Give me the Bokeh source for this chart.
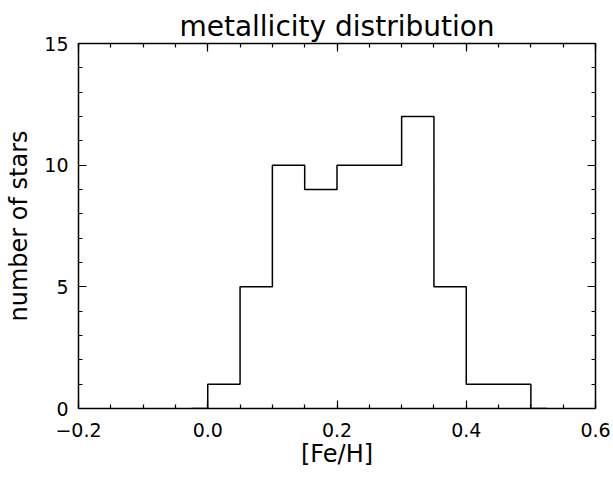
import numpy as np
from bokeh.plotting import figure
from bokeh.models import (LinearAxis, FixedTicker, Range1d, CustomJSTickFormatter)
from bokeh.embed import file_html
from bokeh.resources import INLINE

# Data: histogram bin centers (IDL psym=10 style) and counts
bin_centers = [-0.025, 0.025, 0.075, 0.125, 0.175, 0.225, 0.275, 0.325, 0.375, 0.425, 0.475, 0.525]
counts = [0, 1, 5, 10, 9, 10, 10, 12, 5, 1, 1, 0]

x_major = [-0.2, 0.0, 0.2, 0.4, 0.6]
y_major = [0, 5, 10, 15]

title_text = "metallicity distribution"
x_label = "[Fe/H]"
y_label = "number of stars"

FONT = "DejaVu Sans"

x_minor = [round(v, 3) for v in np.arange(-0.2, 0.6001, 0.05)]
y_minor = list(range(0, 16))

p = figure(width=613, height=478, output_backend="svg", toolbar_location=None,
           x_range=Range1d(-0.2, 0.6), y_range=Range1d(0, 15),
           min_border_left=78, min_border_right=18, min_border_top=43, min_border_bottom=70,
           x_axis_type=None, y_axis_type=None)
p.background_fill_color = "white"
p.border_fill_color = "white"
p.outline_line_color = None
p.grid.visible = False

fmt = CustomJSTickFormatter(code="""
  if (Math.abs(tick) < 1e-9) return '0.0';
  return tick.toFixed(1).replace('-', '\u2212');
""")
yfmt = CustomJSTickFormatter(code="return Math.round(tick).toString();")
empty = CustomJSTickFormatter(code="return '';")

def style(ax):
    ax.axis_line_color = "black"
    ax.axis_line_width = 1.5
    ax.major_tick_line_color = "black"
    ax.minor_tick_line_color = "black"
    ax.major_tick_line_width = 1.2
    ax.minor_tick_line_width = 1.2
    ax.major_tick_in = 8
    ax.major_tick_out = 0
    ax.minor_tick_in = 4
    ax.minor_tick_out = 0
    ax.major_label_text_font = FONT
    ax.major_label_text_color = "black"
    ax.axis_label_text_font = FONT
    ax.axis_label_text_font_style = "normal"
    ax.axis_label_text_color = "black"

xb = LinearAxis(ticker=FixedTicker(ticks=x_major, minor_ticks=x_minor), formatter=fmt,
                axis_label=x_label)
style(xb)
xb.major_label_text_font_size = "19px"
xb.major_label_standoff = 14
xb.axis_label_text_font_size = "24px"
xb.axis_label_standoff = 0
p.add_layout(xb, "below")

xt = LinearAxis(ticker=FixedTicker(ticks=x_major, minor_ticks=x_minor), formatter=empty)
style(xt)
xt.major_label_text_font_size = "0px"
xt.major_label_standoff = 0
p.add_layout(xt, "above")

yl = LinearAxis(ticker=FixedTicker(ticks=y_major, minor_ticks=y_minor), formatter=yfmt,
                axis_label=y_label)
style(yl)
yl.major_label_text_font_size = "19px"
yl.major_label_standoff = 10
yl.axis_label_text_font_size = "24px"
yl.axis_label_standoff = 8
p.add_layout(yl, "left")

yr = LinearAxis(ticker=FixedTicker(ticks=y_major, minor_ticks=y_minor), formatter=empty)
style(yr)
yr.major_label_text_font_size = "0px"
yr.major_label_standoff = 0
p.add_layout(yr, "right")

p.title.text = title_text
p.title.align = "center"
p.title.text_font = FONT
p.title.text_font_size = "28px"
p.title.text_font_style = "normal"
p.title.text_color = "black"
p.title.standoff = 2

p.step(x=bin_centers, y=counts, mode="center", line_color="black", line_width=1.5)

open("out.html", "w").write(file_html(p, INLINE))
